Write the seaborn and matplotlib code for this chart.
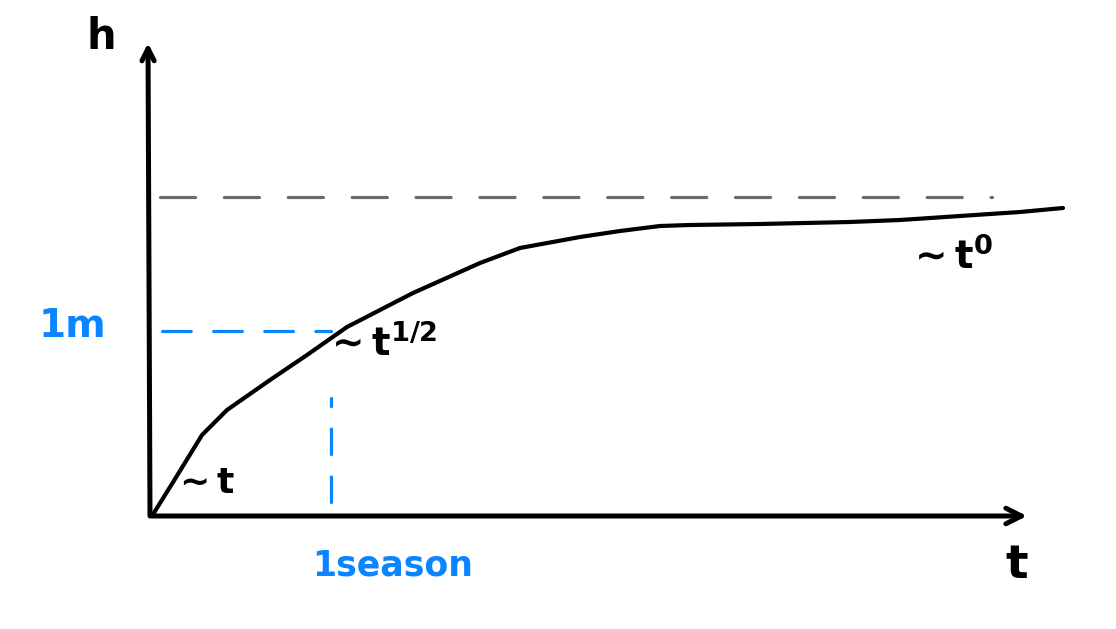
import numpy as np
import pandas as pd
import seaborn as sns
import matplotlib.pyplot as plt

# growth curve h(t) (arbitrary units)
t_vals = [0, 0.23, 0.50, 0.75, 1.18, 1.55, 1.95, 2.61, 3.28, 3.68, 4.28, 4.68,
          5.08, 5.38, 6.08, 6.98, 7.48, 8.08, 8.68, 9.11]
h_vals = [0, 0.37, 0.81, 1.06, 1.36, 1.61, 1.89, 2.23, 2.53, 2.68, 2.79, 2.85,
          2.90, 2.91, 2.92, 2.94, 2.96, 3.00, 3.04, 3.08]

# reference levels
h_max = 3.19
h_max_span = [0.08, 8.40]
h_1m = 1.85
t_season = 1.79

axis_t_end = 8.75
axis_h_end = 4.73

blue = '#0a84ff'
grey = '#6b6b6b'

sns.set_theme(style='white')
plt.rcParams['font.family'] = ['DejaVu Sans']
plt.rcParams['mathtext.fontset'] = 'dejavusans'

fig = plt.figure(figsize=(11.16, 6.29), dpi=100)
ax = fig.add_axes([0, 0, 1, 1])
ax.set_xlim(-1.52, 9.64)
ax.set_ylim(-1.13, 5.16)
ax.axis('off')

# axes with arrows
ax.annotate('', xy=(axis_t_end, 0), xytext=(0, 0),
            arrowprops=dict(arrowstyle='->', lw=3.6, color='black',
                            mutation_scale=28, shrinkA=0, shrinkB=0))
ax.annotate('', xy=(-0.04, axis_h_end), xytext=(-0.02, 0),
            arrowprops=dict(arrowstyle='->', lw=3.6, color='black',
                            mutation_scale=22, shrinkA=0, shrinkB=0))

# asymptote
ax.plot(h_max_span, [h_max, h_max], color=grey, lw=2.3, dashes=(11, 9),
        dash_capstyle='round')

# 1 m / 1 season guides
ax.plot([0.1, t_season], [h_1m, h_1m], color=blue, lw=2.3, dashes=(9, 7),
        dash_capstyle='round')
ax.plot([t_season, t_season], [0.14, 1.18], color=blue, lw=2.3, dashes=(8, 7),
        dash_capstyle='round')

df = pd.DataFrame({'t': t_vals, 'h': h_vals})
sns.lineplot(data=df, x='t', y='h', ax=ax, color='black', lw=3,
             sort=False, estimator=None)
ax.lines[-1].set_solid_capstyle('round')
ax.lines[-1].set_solid_joinstyle('round')
ax.axis('off')

# labels
ax.text(-0.51, 4.79, 'h', fontsize=30, color='black', fontweight='bold',
        ha='center', va='center')
ax.text(8.65, -0.49, 't', fontsize=34, color='black', fontweight='bold',
        ha='center', va='center')
ax.text(-0.80, 1.90, '1m', fontsize=28, color=blue, fontweight='bold',
        ha='center', va='center')
ax.text(2.41, -0.49, '1season', fontsize=25, color=blue, fontweight='bold',
        ha='center', va='center')
ax.text(0.51, 0.33, r'$\mathbf{\sim t}$', fontsize=26, color='black',
        ha='center', va='center')
ax.text(2.29, 1.72, r'$\mathbf{\sim t^{1/2}}$', fontsize=28, color='black',
        ha='center', va='center')
ax.text(7.98, 2.59, r'$\mathbf{\sim t^{0}}$', fontsize=28, color='black',
        ha='center', va='center')

fig.savefig('out.png', dpi=100, facecolor='white')
